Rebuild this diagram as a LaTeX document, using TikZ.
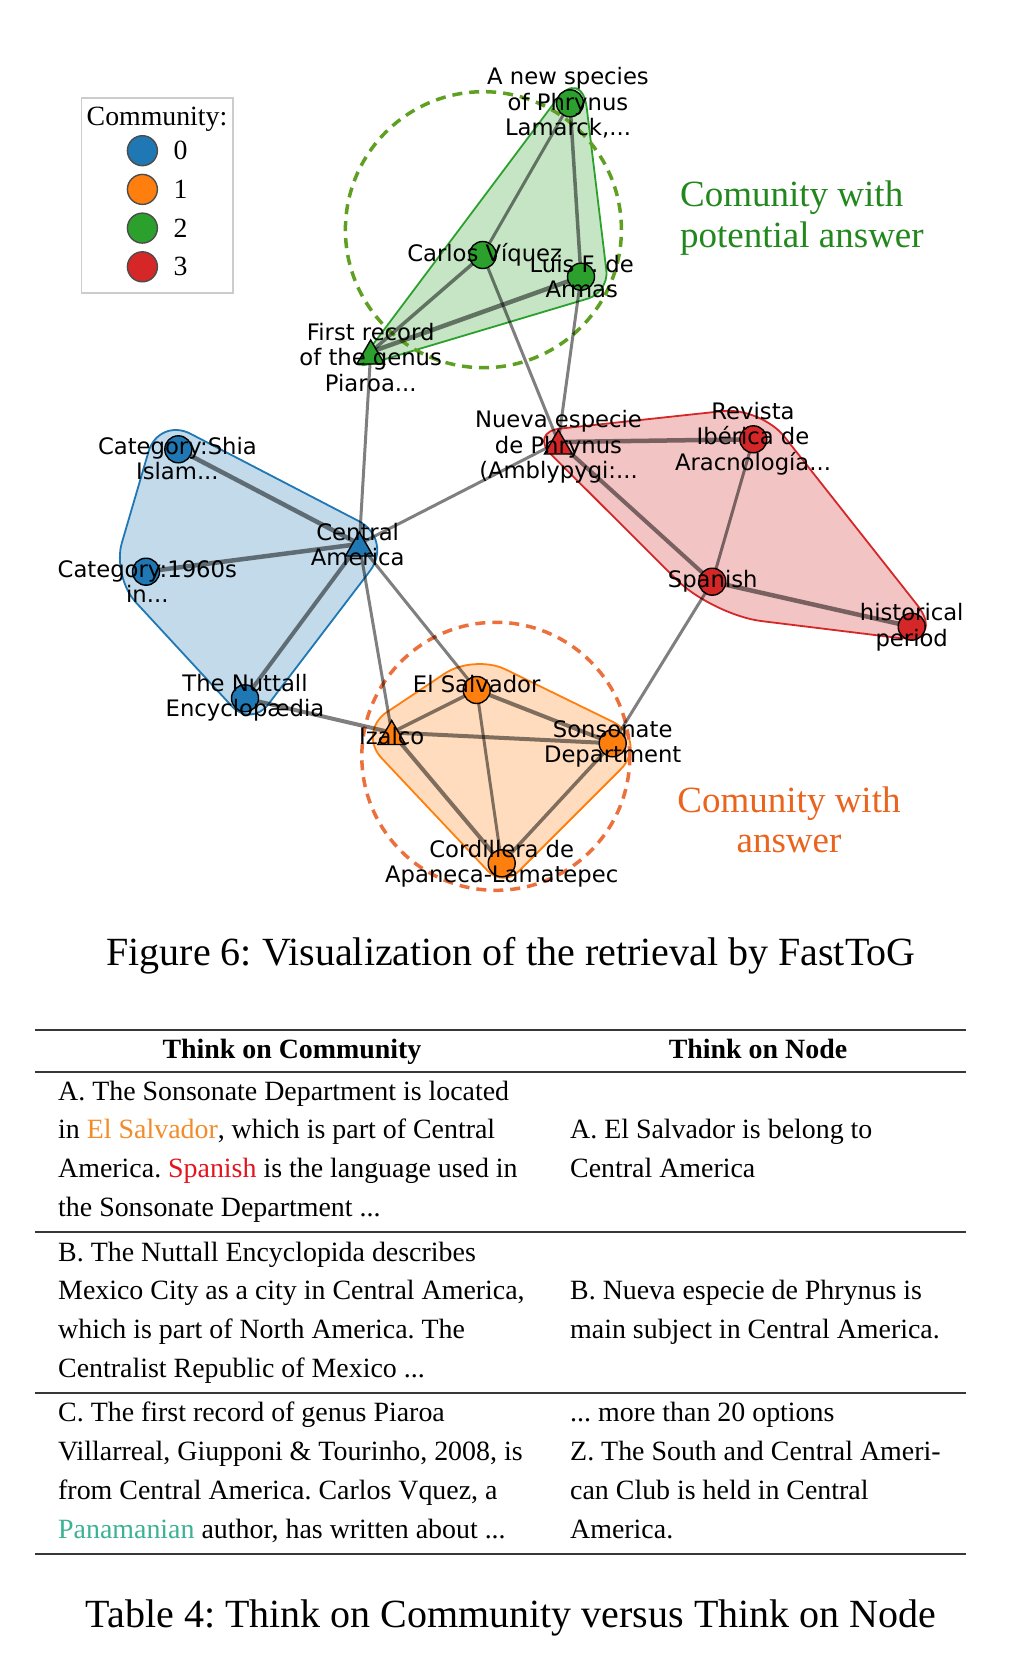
\documentclass[tikz,border=0pt]{standalone}
\usepackage{fontspec}
\setmainfont{Liberation Serif}
\newfontfamily\labfont{DejaVu Sans}
\usetikzlibrary{calc,shapes.geometric}
\definecolor{tabblue}{RGB}{31,119,180}
\definecolor{taborange}{RGB}{255,127,14}
\definecolor{tabgreen}{RGB}{44,160,44}
\definecolor{tabred}{RGB}{214,39,40}
\definecolor{gdashc}{RGB}{95,160,35}
\definecolor{odashc}{RGB}{236,112,60}
\definecolor{gtitle}{RGB}{34,136,30}
\definecolor{otitle}{RGB}{234,100,30}
\definecolor{elsal}{RGB}{242,140,40}
\definecolor{spred}{RGB}{228,20,30}
\definecolor{panam}{RGB}{60,178,148}
\definecolor{legframec}{RGB}{204,204,204}
\definecolor{rulec}{RGB}{55,55,55}
\frenchspacing
\begin{document}
\begin{tikzpicture}[x=1pt,y=-1pt,
  hull/.style={line width=1.8pt, draw=#1, fill=#1, fill opacity=0.27},
  dashcirc/.style={draw=#1, line width=3.5pt, dash pattern=on 10pt off 7pt},
  gedge/.style={draw=black, draw opacity=0.5, line width=#1, line cap=round},
  cmark/.style={circle, minimum size=27pt, inner sep=0pt, draw=black, line width=1.4pt, fill=#1},
  tmark/.style={regular polygon, regular polygon sides=3, minimum size=32pt, inner sep=0pt, draw=black, line width=1.4pt, fill=#1, yshift=-4pt},
  lab/.style={font=\labfont\fontsize{22.7}{25.6}\selectfont, inner sep=0pt},
  legdot/.style={circle, minimum size=30pt, inner sep=0pt, draw=black!70, line width=1.4pt, fill=#1},
  legtxt/.style={font=\fontsize{27.8}{32}\selectfont, inner sep=0pt},
  ctitle/.style={font=\fontsize{37}{41}\selectfont, inner sep=0pt, text=#1},
  tl/.style={font=\fontsize{27.9}{38.8}\selectfont, inner sep=0pt, anchor=base west},
  th/.style={font=\fontsize{27.9}{38.8}\selectfont\bfseries, inner sep=0pt, anchor=base},
  capst/.style={font=\fontsize{40}{46}\selectfont, inner sep=0pt, anchor=base},
  tabrule/.style={draw=rulec, line width=2pt}
]
\fill[white] (0,0) rectangle (1026,1654);
\useasboundingbox (0,0) rectangle (1026,1654);

% ---------------- node positions ----------------
\coordinate (g1) at (570,103.3);
\coordinate (g2) at (482.7,255);
\coordinate (g3) at (581,276.7);
\coordinate (g4) at (370.7,352);
\coordinate (r1) at (558.3,442);
\coordinate (r2) at (753.3,439.3);
\coordinate (r3) at (712.3,581.7);
\coordinate (r4) at (911.7,626.7);
\coordinate (b1) at (178.3,449.3);
\coordinate (b2) at (359.3,544);
\coordinate (b3) at (146,571.7);
\coordinate (b4) at (245,698.3);
\coordinate (o1) at (476.7,690);
\coordinate (o2) at (391.7,732.5);
\coordinate (o3) at (612.7,743.3);
\coordinate (o4) at (501.7,863.3);

% ---------------- hulls ----------------
\coordinate (RA) at (528.6,432);
\coordinate (RB) at (761,407);
\coordinate (RC) at (948,644);
\coordinate (RD) at (712,615);
\draw[hull=tabred] ($(RA)!32pt!(RB)$) -- ($(RB)!38pt!(RA)$)
  .. controls ($(RB)!17pt!(RA)$) and ($(RB)!17pt!(RC)$) .. ($(RB)!38pt!(RC)$)
  -- ($(RC)!50pt!(RB)$)
  .. controls ($(RC)!22.4pt!(RB)$) and ($(RC)!22.4pt!(RD)$) .. ($(RC)!50pt!(RD)$)
  -- ($(RD)!50pt!(RC)$)
  .. controls ($(RD)!22.4pt!(RC)$) and ($(RD)!22.4pt!(RA)$) .. ($(RD)!50pt!(RA)$)
  -- ($(RA)!32pt!(RD)$)
  .. controls ($(RA)!14.3pt!(RD)$) and ($(RA)!14.3pt!(RB)$) .. ($(RA)!32pt!(RB)$) -- cycle;

\coordinate (GA) at (581.7,66.2);
\coordinate (GB) at (609,292.3);
\coordinate (GC) at (355.3,368);
\draw[hull=tabgreen] ($(GA)!42pt!(GB)$) -- ($(GB)!22pt!(GA)$)
  .. controls ($(GB)!9.8pt!(GA)$) and ($(GB)!9.8pt!(GC)$) .. ($(GB)!22pt!(GC)$)
  -- ($(GC)!12pt!(GB)$)
  .. controls ($(GC)!5.4pt!(GB)$) and ($(GC)!5.4pt!(GA)$) .. ($(GC)!12pt!(GA)$)
  -- ($(GA)!42pt!(GC)$)
  .. controls ($(GA)!18.8pt!(GC)$) and ($(GA)!18.8pt!(GB)$) .. ($(GA)!42pt!(GB)$) -- cycle;

\coordinate (BA) at (158.6,417.2);
\coordinate (BB) at (394,539.4);
\coordinate (BC) at (251,727);
\coordinate (BD) at (112,576.5);
\draw[hull=tabblue] ($(BA)!36pt!(BB)$) -- ($(BB)!40pt!(BA)$)
  .. controls ($(BB)!17.9pt!(BA)$) and ($(BB)!17.9pt!(BC)$) .. ($(BB)!40pt!(BC)$)
  -- ($(BC)!28pt!(BB)$)
  .. controls ($(BC)!12.5pt!(BB)$) and ($(BC)!12.5pt!(BD)$) .. ($(BC)!28pt!(BD)$)
  -- ($(BD)!35pt!(BC)$)
  .. controls ($(BD)!15.7pt!(BC)$) and ($(BD)!15.7pt!(BA)$) .. ($(BD)!35pt!(BA)$)
  -- ($(BA)!36pt!(BD)$)
  .. controls ($(BA)!16.1pt!(BD)$) and ($(BA)!16.1pt!(BB)$) .. ($(BA)!36pt!(BB)$) -- cycle;

\coordinate (OA) at (474,654);
\coordinate (OB) at (650,740);
\coordinate (OC) at (503,887);
\coordinate (OD) at (357,732);
\draw[hull=taborange] ($(OA)!35pt!(OB)$) -- ($(OB)!42pt!(OA)$)
  .. controls ($(OB)!18.8pt!(OA)$) and ($(OB)!18.8pt!(OC)$) .. ($(OB)!42pt!(OC)$)
  -- ($(OC)!22pt!(OB)$)
  .. controls ($(OC)!9.8pt!(OB)$) and ($(OC)!9.8pt!(OD)$) .. ($(OC)!22pt!(OD)$)
  -- ($(OD)!36pt!(OC)$)
  .. controls ($(OD)!16.1pt!(OC)$) and ($(OD)!16.1pt!(OA)$) .. ($(OD)!36pt!(OA)$)
  -- ($(OA)!35pt!(OD)$)
  .. controls ($(OA)!15.7pt!(OD)$) and ($(OA)!15.7pt!(OB)$) .. ($(OA)!35pt!(OB)$) -- cycle;

% ---------------- dashed circles ----------------
\draw[dashcirc=gdashc] (483.4,229.7) circle[radius=138pt];
\draw[dashcirc=odashc] (495.8,756.3) circle[radius=134pt];

% ---------------- edges ----------------
\draw[gedge=3pt] (g1) -- (g2);
\draw[gedge=3.5pt] (g1) -- (g3);
\draw[gedge=3.5pt] (g2) -- (g4);
\draw[gedge=4.5pt] (g3) -- (g4);
\draw[gedge=3pt] (g2) -- (r1);
\draw[gedge=3pt] (g3) -- (r1);
\draw[gedge=3pt] (g4) -- (b2);
\draw[gedge=4.5pt] (r1) -- (r2);
\draw[gedge=4pt] (r1) -- (r3);
\draw[gedge=3pt] (r2) -- (r3);
\draw[gedge=4.5pt] (r3) -- (r4);
\draw[gedge=3pt] (r1) -- (b2);
\draw[gedge=4.5pt] (b1) -- (b2);
\draw[gedge=4.5pt] (b3) -- (b2);
\draw[gedge=4pt] (b4) -- (b2);
\draw[gedge=4pt] (b4) -- (o2);
\draw[gedge=3pt] (b2) -- (o2);
\draw[gedge=3pt] (b2) -- (o1);
\draw[gedge=3.5pt] (o1) -- (o2);
\draw[gedge=4pt] (o1) -- (o3);
\draw[gedge=3pt] (o1) -- (o4);
\draw[gedge=4pt] (o2) -- (o3);
\draw[gedge=4pt] (o2) -- (o4);
\draw[gedge=3.5pt] (o3) -- (o4);
\draw[gedge=3pt] (o3) -- (r3);

% ---------------- markers ----------------
\node[cmark=tabgreen] (mg1) at (g1) {};
\node[cmark=tabgreen] (mg2) at (g2) {};
\node[cmark=tabgreen] (mg3) at (g3) {};
\node[tmark=tabgreen] (mg4) at (g4) {};
\node[tmark=tabred] (mr1) at (r1) {};
\node[cmark=tabred] (mr2) at (r2) {};
\node[cmark=tabred] (mr3) at (r3) {};
\node[cmark=tabred] (mr4) at (r4) {};
\node[cmark=tabblue] (mb1) at (b1) {};
\node[tmark=tabblue] (mb2) at (b2) {};
\node[cmark=tabblue] (mb3) at (b3) {};
\node[cmark=tabblue] (mb4) at (b4) {};
\node[cmark=taborange] (mo1) at (o1) {};
\node[tmark=taborange] (mo2) at (o2) {};
\node[cmark=taborange] (mo3) at (o3) {};
\node[cmark=taborange] (mo4) at (o4) {};

% ---------------- labels ----------------
\node[lab] (lg1) at (568,105.2) {\begin{tabular}{@{}c@{}}A new species\\of Phrynus\\Lamarck,...\end{tabular}};
\node[lab] (lg2) at (484.7,255.8) {\begin{tabular}{@{}c@{}}Carlos Víquez\end{tabular}};
\node[lab] (lg3) at (581.7,279.7) {\begin{tabular}{@{}c@{}}Luis F. de\\Armas\end{tabular}};
\node[lab] (lg4) at (370.7,360.8) {\begin{tabular}{@{}c@{}}First record\\of the genus\\Piaroa...\end{tabular}};
\node[lab] (lr1) at (558.5,447.9) {\begin{tabular}{@{}c@{}}Nueva especie\\de Phrynus\\(Amblypygi:...\end{tabular}};
\node[lab] (lr2) at (753,439.8) {\begin{tabular}{@{}c@{}}Revista\\Ibérica de\\Aracnología...\end{tabular}};
\node[lab] (lr3) at (712.7,582.5) {\begin{tabular}{@{}c@{}}Spanish\end{tabular}};
\node[lab] (lr4) at (911.7,628.3) {\begin{tabular}{@{}c@{}}historical\\period\end{tabular}};
\node[lab] (lb1) at (177.4,461.7) {\begin{tabular}{@{}c@{}}Category:Shia\\Islam...\end{tabular}};
\node[lab] (lb2) at (357.7,547.7) {\begin{tabular}{@{}c@{}}Central\\America\end{tabular}};
\node[lab] (lb3) at (147.3,585) {\begin{tabular}{@{}c@{}}Category:1960s\\in...\end{tabular}};
\node[lab] (lb4) at (245,698.7) {\begin{tabular}{@{}c@{}}The Nuttall\\Encyclopædia\end{tabular}};
\node[lab] (lo1) at (476.7,687.5) {\begin{tabular}{@{}c@{}}El Salvador\end{tabular}};
\node[lab] (lo2) at (391.7,739.2) {\begin{tabular}{@{}c@{}}Izalco\end{tabular}};
\node[lab] (lo3) at (612.7,745) {\begin{tabular}{@{}c@{}}Sonsonate\\Department\end{tabular}};
\node[lab] (lo4) at (501.7,864.7) {\begin{tabular}{@{}c@{}}Cordillera de\\Apaneca-Lamatepec\end{tabular}};

% ---------------- legend ----------------
\draw[draw=legframec, line width=1.5pt] (81.5,98) rectangle (233,293);
\node[legtxt, anchor=base] (legt) at (157,125) {Community:};
\node[legdot=tabblue] (ld0) at (142.4,150.7) {};
\node[legdot=taborange] (ld1) at (142.4,189.4) {};
\node[legdot=tabgreen] (ld2) at (142.4,228.1) {};
\node[legdot=tabred] (ld3) at (142.4,266.8) {};
\node[legtxt, anchor=west] (ln0) at (173.5,150.7) {0};
\node[legtxt, anchor=west] (ln1) at (173.5,189.4) {1};
\node[legtxt, anchor=west] (ln2) at (173.5,228.1) {2};
\node[legtxt, anchor=west] (ln3) at (173.5,266.8) {3};

% ---------------- community titles ----------------
\node[ctitle=gtitle, anchor=base west] (gt1) at (680,206) {Comunity with};
\node[ctitle=gtitle, anchor=base west] (gt2) at (680,247) {potential answer};
\node[ctitle=otitle, anchor=base] (ot1) at (789,812) {Comunity with};
\node[ctitle=otitle, anchor=base] (ot2) at (789,852) {answer};

% ---------------- figure caption ----------------
\node[capst] (figcap) at (511,965) {Figure 6: Visualization of the retrieval by FastToG};

% ---------------- table ----------------
\draw[tabrule] (35,1030) -- (966,1030);
\draw[tabrule] (35,1071.5) -- (966,1071.5);
\draw[tabrule] (35,1232) -- (966,1232);
\draw[tabrule] (35,1392.7) -- (966,1392.7);
\draw[tabrule] (35,1553.5) -- (966,1553.5);

\node[th] (h1) at (292,1058) {Think on Community};
\node[th] (h2) at (758,1058) {Think on Node};

\node[tl] (a1) at (58,1100) {A. The Sonsonate Department is located};
\node[tl] (a2) at (58,1138.8) {in \textcolor{elsal}{El Salvador}, which is part of Central};
\node[tl] (a3) at (58,1177.6) {America. \textcolor{spred}{Spanish} is the language used in};
\node[tl] (a4) at (58,1216.4) {the Sonsonate Department ...};
\node[tl] (an1) at (570,1138.8) {A. El Salvador is belong to};
\node[tl] (an2) at (570,1177.6) {Central America};

\node[tl] (b1t) at (58,1261) {B. The Nuttall Encyclopida describes};
\node[tl] (b2t) at (58,1299.8) {Mexico City as a city in Central America,};
\node[tl] (b3t) at (58,1338.6) {which is part of North America. The};
\node[tl] (b4t) at (58,1377.4) {Centralist Republic of Mexico ...};
\node[tl] (bn1) at (570,1299.8) {B. Nueva especie de Phrynus is};
\node[tl] (bn2) at (570,1338.6) {main subject in Central America.};

\node[tl] (c1t) at (58,1421.7) {C. The first record of genus Piaroa};
\node[tl] (c2t) at (58,1460.5) {Villarreal, Giupponi \& Tourinho, 2008, is};
\node[tl] (c3t) at (58,1499.3) {from Central America. Carlos Vquez, a};
\node[tl] (c4t) at (58,1538.1) {\textcolor{panam}{Panamanian} author, has written about ...};
\node[tl] (cn1) at (570,1421.7) {... more than 20 options};
\node[tl] (cn2) at (570,1460.5) {Z. The South and Central Ameri-};
\node[tl] (cn3) at (570,1499.3) {can Club is held in Central};
\node[tl] (cn4) at (570,1538.1) {America.};

\node[capst] (tabcap) at (511,1627) {Table 4: Think on Community versus Think on Node};
\end{tikzpicture}
\end{document}
